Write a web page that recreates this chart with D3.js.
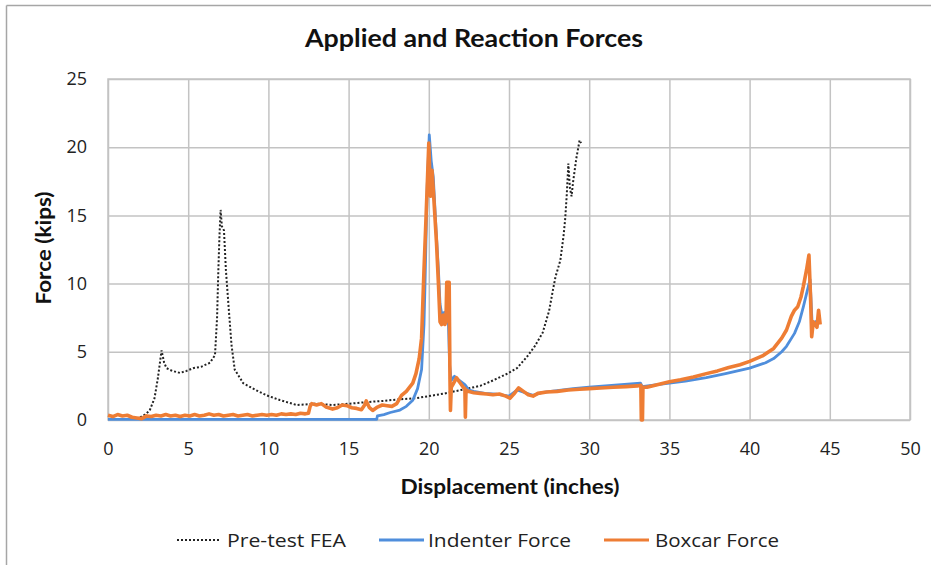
<!DOCTYPE html>
<html><head><meta charset="utf-8">
<script src="https://cdn.jsdelivr.net/npm/d3@7"></script>
<style>body{margin:0;background:#fff}svg{display:block}</style>
</head><body><svg id="c" width="931" height="565"></svg>
<script>
const xTicks=[0,5,10,15,20,25,30,35,40,45,50];
const yTicks=[0,5,10,15,20,25];
const seriesNames=["Pre-test FEA","Indenter Force","Boxcar Force"];
const feaData=[[2.0,0.2],[2.3,0.4],[2.6,0.7],[2.9,1.6],[3.1,3.0],[3.34,5.1],[3.5,4.2],[3.65,3.8],[4.0,3.6],[4.49,3.45],[4.9,3.6],[5.3,3.8],[5.8,3.9],[6.36,4.2],[6.67,4.75],[6.8,7.5],[6.88,11],[6.95,13.5],[7.02,15.4],[7.1,14.2],[7.23,13.9],[7.35,11.0],[7.5,8.6],[7.7,5.5],[7.9,3.7],[8.43,2.7],[9.2,2.2],[9.9,1.8],[10.7,1.47],[11.76,1.1],[13.0,1.2],[14.0,1.1],[15.08,1.2],[16.5,1.35],[17.15,1.4],[18.0,1.5],[19.2,1.6],[20,1.75],[21,1.95],[22.4,2.3],[23.2,2.5],[24.0,2.9],[24.9,3.4],[25.5,3.8],[26.1,4.6],[26.6,5.4],[27.1,6.4],[27.5,8.0],[27.75,9.6],[27.9,10.5],[28.2,11.7],[28.4,13.5],[28.5,14.7],[28.6,16.5],[28.7,18.8],[28.8,17.0],[28.9,16.4],[29.0,17.5],[29.2,19.2],[29.4,20.5],[29.5,20.3]];
const indenterData=[[0,0.05],[4,0.05],[8,0.05],[12,0.05],[16.75,0.05],[16.8,0.3],[17.2,0.4],[17.6,0.55],[18.2,0.73],[18.6,1.0],[19.0,1.45],[19.3,2.3],[19.55,3.7],[19.7,7],[19.76,9.8],[19.9,17.1],[20.03,20.9],[20.15,19],[20.28,17.8],[20.45,14],[20.6,11],[20.7,8.5],[20.8,7.8],[21.0,7.9],[21.2,8.0],[21.3,4],[21.4,2.9],[21.6,3.2],[21.9,2.9],[22.25,2.6],[22.5,2.2],[22.8,2.1],[23.5,1.95],[24.2,1.9],[25.0,1.75],[25.5,2.2],[26.0,2.0],[26.5,1.8],[27,2.0],[28,2.15],[29,2.3],[30,2.4],[31,2.5],[32,2.6],[33.2,2.7],[33.3,2.45],[34.0,2.55],[35.0,2.7],[36,2.85],[37.3,3.1],[38.5,3.4],[40.0,3.8],[41.0,4.2],[41.5,4.5],[42.0,5.0],[42.3,5.4],[42.8,6.35],[43.1,7.2],[43.35,8.3],[43.6,9.5],[43.77,10.3],[43.9,7.0],[44.1,7.2],[44.3,7.3]];
const boxcarData=[[0,0.35],[0.3,0.25],[0.6,0.4],[0.9,0.3],[1.2,0.35],[1.5,0.2],[1.8,0.15],[2.1,0.1],[2.4,0.3],[2.7,0.25],[3.0,0.35],[3.3,0.3],[3.6,0.4],[3.9,0.3],[4.2,0.35],[4.5,0.25],[4.8,0.35],[5.1,0.3],[5.4,0.4],[5.7,0.3],[6.0,0.35],[6.3,0.45],[6.6,0.35],[6.9,0.4],[7.2,0.3],[7.5,0.35],[7.8,0.4],[8.1,0.3],[8.4,0.35],[8.7,0.4],[9.0,0.3],[9.3,0.35],[9.6,0.4],[9.9,0.35],[10.2,0.4],[10.5,0.35],[10.8,0.45],[11.1,0.4],[11.4,0.45],[11.7,0.4],[12.0,0.5],[12.3,0.45],[12.5,0.5],[12.6,1.0],[12.7,1.2],[13.0,1.1],[13.3,1.2],[13.6,0.95],[14.0,0.8],[14.3,0.9],[14.6,1.1],[14.9,1.05],[15.2,0.9],[15.5,0.85],[15.8,0.75],[16.0,1.1],[16.1,1.4],[16.3,0.9],[16.5,0.7],[16.8,0.95],[17.1,1.1],[17.4,1.05],[17.7,1.0],[18.0,1.2],[18.3,1.8],[18.6,2.1],[19.0,2.7],[19.2,3.4],[19.4,4.5],[19.55,6],[19.7,11],[19.8,14],[19.9,17.1],[20.0,20.3],[20.1,16.4],[20.2,18.3],[20.3,16.5],[20.48,13],[20.6,10],[20.7,7.2],[20.8,7.0],[20.9,7.7],[21.0,7.0],[21.07,7.2],[21.12,10.1],[21.27,10.1],[21.32,3],[21.35,0.7],[21.4,2.4],[21.5,2.6],[21.73,3.1],[21.9,2.8],[22.15,2.4],[22.25,2.3],[22.28,0.2],[22.32,2.2],[22.45,2.1],[22.8,2.0],[23.2,1.95],[23.6,1.9],[24.0,1.85],[24.4,1.9],[24.8,1.75],[25.06,1.6],[25.3,1.9],[25.6,2.35],[25.9,2.1],[26.2,1.85],[26.5,1.75],[26.8,1.95],[27.35,2.05],[28,2.1],[28.7,2.2],[29.4,2.25],[30,2.3],[30.7,2.35],[31.5,2.4],[32.3,2.45],[33.0,2.5],[33.22,2.55],[33.25,0],[33.32,0],[33.35,2.4],[33.6,2.4],[34.3,2.6],[35.0,2.8],[35.7,2.95],[36.5,3.15],[37.3,3.4],[38.0,3.6],[38.7,3.85],[39.4,4.05],[40.0,4.3],[40.8,4.7],[41.5,5.25],[42.0,6.0],[42.3,6.6],[42.6,7.6],[42.8,8.05],[43.0,8.3],[43.2,9.0],[43.35,9.8],[43.55,11],[43.7,12.1],[43.8,9],[43.87,6.1],[43.97,7.2],[44.1,7.0],[44.2,6.8],[44.3,8.05],[44.4,7.0]];

const svg=d3.select("#c");
const L=108,R=910,T=79,B=420;
const x=d3.scaleLinear().domain([0,50]).range([L,R]);
const y=d3.scaleLinear().domain([0,25]).range([B,T]);
const grid="#c3c3c3";
const tickFont="'Open Sans', sans-serif";

svg.append("line").attr("x1",6.5).attr("x2",931).attr("y1",5.5).attr("y2",5.5).attr("stroke","#a6a6a6").attr("stroke-width",1.5);
svg.append("line").attr("x1",6.5).attr("x2",6.5).attr("y1",5.5).attr("y2",565).attr("stroke","#a6a6a6").attr("stroke-width",1.5);

const gx=svg.append("g").attr("transform",`translate(0,${B})`).call(d3.axisBottom(x).tickValues(xTicks).tickSize(-(B-T)).tickFormat(d=>d));
gx.select(".domain").remove();
gx.selectAll("line").attr("stroke",grid).attr("stroke-width",1.5);
gx.selectAll("text").attr("font-family",tickFont).attr("font-size",18).attr("fill","#222").attr("dy","1.05em").attr("y",16);
const gy=svg.append("g").attr("transform",`translate(${L},0)`).call(d3.axisLeft(y).tickValues(yTicks).tickSize(-(R-L)).tickFormat(d=>d));
gy.select(".domain").remove();
gy.selectAll("line").attr("stroke",grid).attr("stroke-width",1.5);
gy.selectAll("text").attr("font-family",tickFont).attr("font-size",18).attr("fill","#222").attr("x",-21);
svg.append("rect").attr("x",L).attr("y",T).attr("width",R-L).attr("height",B-T).attr("fill","none").attr("stroke",grid).attr("stroke-width",1.5);

const line=d3.line().x(d=>x(d[0])).y(d=>y(d[1]));
const blue="#4f8edc", orange="#ee7d34";
svg.append("path").datum(feaData).attr("d",line).attr("fill","none").attr("stroke","#222").attr("stroke-width",2).attr("stroke-dasharray","2,2");
svg.append("path").datum(indenterData).attr("d",line).attr("fill","none").attr("stroke",blue).attr("stroke-width",2.8).attr("stroke-linejoin","round");
svg.append("path").datum(boxcarData).attr("d",line).attr("fill","none").attr("stroke",orange).attr("stroke-width",3.6).attr("stroke-linejoin","round");

svg.append("text").attr("x",474).attr("y",47).attr("text-anchor","middle").attr("font-family","Lato, sans-serif").attr("font-weight","bold").attr("font-size",25).attr("fill","#111").attr("textLength",338).attr("lengthAdjust","spacingAndGlyphs").text("Applied and Reaction Forces");
svg.append("text").attr("x",510).attr("y",494).attr("text-anchor","middle").attr("font-family","Lato, sans-serif").attr("font-weight","bold").attr("font-size",21).attr("fill","#111").attr("textLength",219).attr("lengthAdjust","spacingAndGlyphs").text("Displacement (inches)");
svg.append("text").attr("transform","translate(51,248) rotate(-90)").attr("text-anchor","middle").attr("font-family","Lato, sans-serif").attr("font-weight","bold").attr("font-size",20).attr("fill","#111").attr("textLength",113).attr("lengthAdjust","spacingAndGlyphs").text("Force (kips)");

const leg=[{x1:177,x2:221,tx:227,len:119,color:"#222",w:2,dash:"2,2"},{x1:379,x2:424,tx:428,len:143,color:blue,w:2.8,dash:null},{x1:604,x2:649,tx:655,len:124,color:orange,w:3.2,dash:null}];
leg.forEach((l,i)=>{
  svg.append("line").attr("x1",l.x1).attr("x2",l.x2).attr("y1",540).attr("y2",540).attr("stroke",l.color).attr("stroke-width",l.w).attr("stroke-dasharray",l.dash);
  svg.append("text").attr("x",l.tx).attr("y",547).attr("font-family",tickFont).attr("font-size",19).attr("fill","#222").attr("textLength",l.len).attr("lengthAdjust","spacingAndGlyphs").text(seriesNames[i]);
});
</script></body></html>
